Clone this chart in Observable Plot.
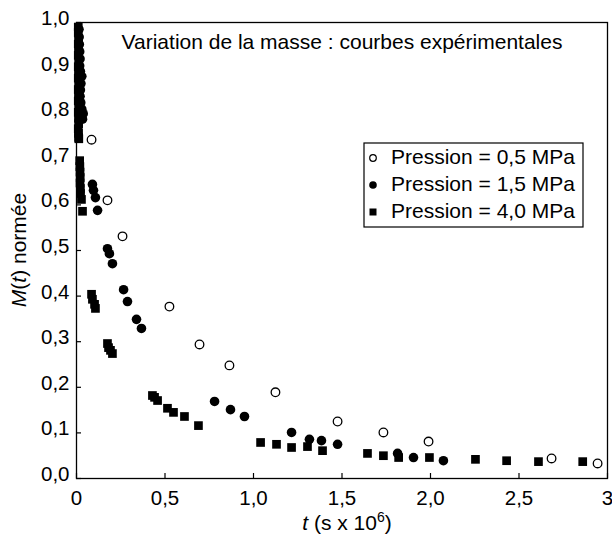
<!DOCTYPE html>
<html>
<head>
<meta charset="utf-8">
<script src="https://cdn.jsdelivr.net/npm/d3@7"></script>
<script src="https://cdn.jsdelivr.net/npm/@observablehq/plot@0.6"></script>
<style>
  body { margin: 0; background: #fff; }
  #chart svg { font-family: "Liberation Sans", Arial, sans-serif; }
</style>
</head>
<body>
<div id="chart"></div>
<script>
// ---- Data ----
const title = "Variation de la masse : courbes expérimentales";
const seriesNames = ["Pression = 0,5 MPa", "Pression = 1,5 MPa", "Pression = 4,0 MPa"];

// 0.5 MPa (open circles)
const t05 = [0.085, 0.175, 0.26, 0.525, 0.695, 0.864, 1.124, 1.475, 1.734, 1.989, 2.684, 2.944];
const m05 = [0.743, 0.610, 0.531, 0.377, 0.294, 0.248, 0.189, 0.125, 0.101, 0.081, 0.044, 0.033];

// 1.5 MPa (filled circles)
const t15 = [0.014, 0.015, 0.016, 0.018, 0.02, 0.018, 0.022, 0.03, 0.025, 0.022, 0.02, 0.024, 0.03, 0.038, 0.034,
             0.09, 0.096, 0.107, 0.119, 0.175, 0.186, 0.203, 0.266, 0.288, 0.339, 0.367,
             0.78, 0.87, 0.949, 1.215, 1.316, 1.384, 1.475, 1.814, 1.904, 2.073];
const m15 = [0.985, 0.968, 0.952, 0.936, 0.92, 0.905, 0.893, 0.882, 0.866, 0.852, 0.838, 0.824, 0.81, 0.80, 0.788,
             0.645, 0.632, 0.616, 0.588, 0.504, 0.493, 0.471, 0.414, 0.388, 0.349, 0.329,
             0.169, 0.151, 0.136, 0.101, 0.086, 0.083, 0.075, 0.055, 0.046, 0.039];

// 4.0 MPa (filled squares)
const t40 = [0.01, 0.01, 0.012, 0.01, 0.011, 0.01, 0.012, 0.01, 0.011, 0.01, 0.012, 0.01, 0.011, 0.01,
             0.012, 0.01, 0.011, 0.012, 0.01, 0.011, 0.012, 0.013,
             0.018, 0.019, 0.02, 0.021, 0.02, 0.022, 0.023, 0.028, 0.034,
             0.085, 0.09, 0.102, 0.107, 0.175, 0.181, 0.192, 0.203,
             0.429, 0.441, 0.458, 0.514, 0.548, 0.61, 0.689, 1.04, 1.13, 1.215, 1.305, 1.39,
             1.644, 1.734, 1.82, 1.994, 2.254, 2.43, 2.61, 2.86];
const m40 = [0.99, 0.978, 0.965, 0.953, 0.94, 0.928, 0.915, 0.903, 0.89, 0.878, 0.866, 0.853, 0.84, 0.828,
             0.815, 0.803, 0.79, 0.778, 0.767, 0.757, 0.748, 0.745,
             0.697, 0.684, 0.672, 0.66, 0.648, 0.636, 0.625, 0.612, 0.586,
             0.404, 0.393, 0.382, 0.373, 0.296, 0.287, 0.281, 0.274,
             0.182, 0.178, 0.171, 0.154, 0.145, 0.136, 0.116, 0.079, 0.075, 0.068, 0.07, 0.061,
             0.055, 0.05, 0.046, 0.046, 0.042, 0.039, 0.037, 0.037];

const xTicks = [0, 0.5, 1, 1.5, 2, 2.5, 3];
const xTickLabels = ["0", "0,5", "1,0", "1,5", "2,0", "2,5", "3"];
const yTicks = [0, 0.1, 0.2, 0.3, 0.4, 0.5, 0.6, 0.7, 0.8, 0.9, 1.0];
const yTickLabels = ["0,0", "0,1", "0,2", "0,3", "0,4", "0,5", "0,6", "0,7", "0,8", "0,9", "1,0"];

// ---- Build tables ----
const d05 = t05.map((t, i) => ({t, m: m05[i]}));
const d15 = t15.map((t, i) => ({t, m: m15[i]}));
const d40 = t40.map((t, i) => ({t, m: m40[i]}));

const W = 612, H = 542;
const mL = 76, mR = 5, mT = 22, mB = 64;
const plotW = W - mL - mR, plotH = H - mT - mB;

const chart = Plot.plot({
  width: W,
  height: H,
  marginLeft: mL,
  marginRight: mR,
  marginTop: mT,
  marginBottom: mB,
  style: {fontFamily: "Liberation Sans, Arial, sans-serif", background: "#fff", color: "#000"},
  x: {domain: [0, 3]},
  y: {domain: [0, 1]},
  marks: [
    Plot.axisX(xTicks, {tickSize: 0, tickPadding: 12, fontSize: 20.5, tickFormat: (d) => xTickLabels[xTicks.indexOf(d)], label: null}),
    Plot.axisY(yTicks, {tickSize: 0, tickPadding: 7, fontSize: 20.5, dy: -4, tickFormat: (d) => yTickLabels[yTicks.indexOf(d)], label: null}),
    Plot.ruleX(xTicks, {x: d => d, insetTop: plotH - 5, stroke: "black", strokeWidth: 1.2}),
    Plot.ruleY(yTicks, {y: d => d, insetRight: plotW - 5, stroke: "black", strokeWidth: 1.2}),
    Plot.frame({stroke: "black", strokeWidth: 1.3}),
    Plot.text([title], {frameAnchor: "top", dy: 12, fontSize: 21, fill: "black"}),
    Plot.dot(d05, {x: "t", y: "m", r: 4.3, stroke: "black", strokeWidth: 1.3, fill: "white"}),
    Plot.dot(d15, {x: "t", y: "m", r: 4.8, fill: "black", stroke: "none"}),
    Plot.dot(d40, {x: "t", y: "m", r: 4.9, symbol: "square", fill: "black", stroke: "none"})
  ]
});

document.getElementById("chart").appendChild(chart);

// ---- Axis titles and legend (text added to the same SVG) ----
const svg = d3.select(chart);

// y label: M(t) normée
const yl = svg.append("text")
  .attr("transform", `translate(26,${mT + plotH / 2}) rotate(-90)`)
  .attr("text-anchor", "middle")
  .attr("font-size", 21)
  .attr("fill", "black");
yl.append("tspan").attr("font-style", "italic").text("M");
yl.append("tspan").text("(");
yl.append("tspan").attr("font-style", "italic").text("t");
yl.append("tspan").text(") normée");

// x label: t (s x 10^6)
const xl = svg.append("text")
  .attr("x", 347).attr("y", 530)
  .attr("text-anchor", "middle")
  .attr("font-size", 21)
  .attr("fill", "black");
xl.append("tspan").attr("font-style", "italic").text("t");
xl.append("tspan").text(" (s x 10");
xl.append("tspan").attr("font-size", 14).attr("dy", -8).text("6");
xl.append("tspan").attr("dy", 8).text(")");

// legend
const lg = svg.append("g").attr("text-anchor", "start");
lg.append("rect").attr("x", 364).attr("y", 143).attr("width", 219).attr("height", 84)
  .attr("fill", "white").attr("stroke", "black").attr("stroke-width", 1.2);
const rows = [157, 184, 211];
const sym = [
  g => g.append("circle").attr("r", 3.3).attr("fill", "white").attr("stroke", "black").attr("stroke-width", 1.2),
  g => g.append("circle").attr("r", 3.8).attr("fill", "black"),
  g => g.append("rect").attr("x", -3.5).attr("y", -3.5).attr("width", 7).attr("height", 7).attr("fill", "black")
];
seriesNames.forEach((name, i) => {
  const g = lg.append("g").attr("transform", `translate(373,${rows[i] + 1})`);
  sym[i](g);
  lg.append("text").attr("x", 391).attr("y", rows[i] + 7)
    .attr("text-anchor", "start")
    .attr("font-size", 21).attr("fill", "black").text(name);
});
</script>
</body>
</html>
